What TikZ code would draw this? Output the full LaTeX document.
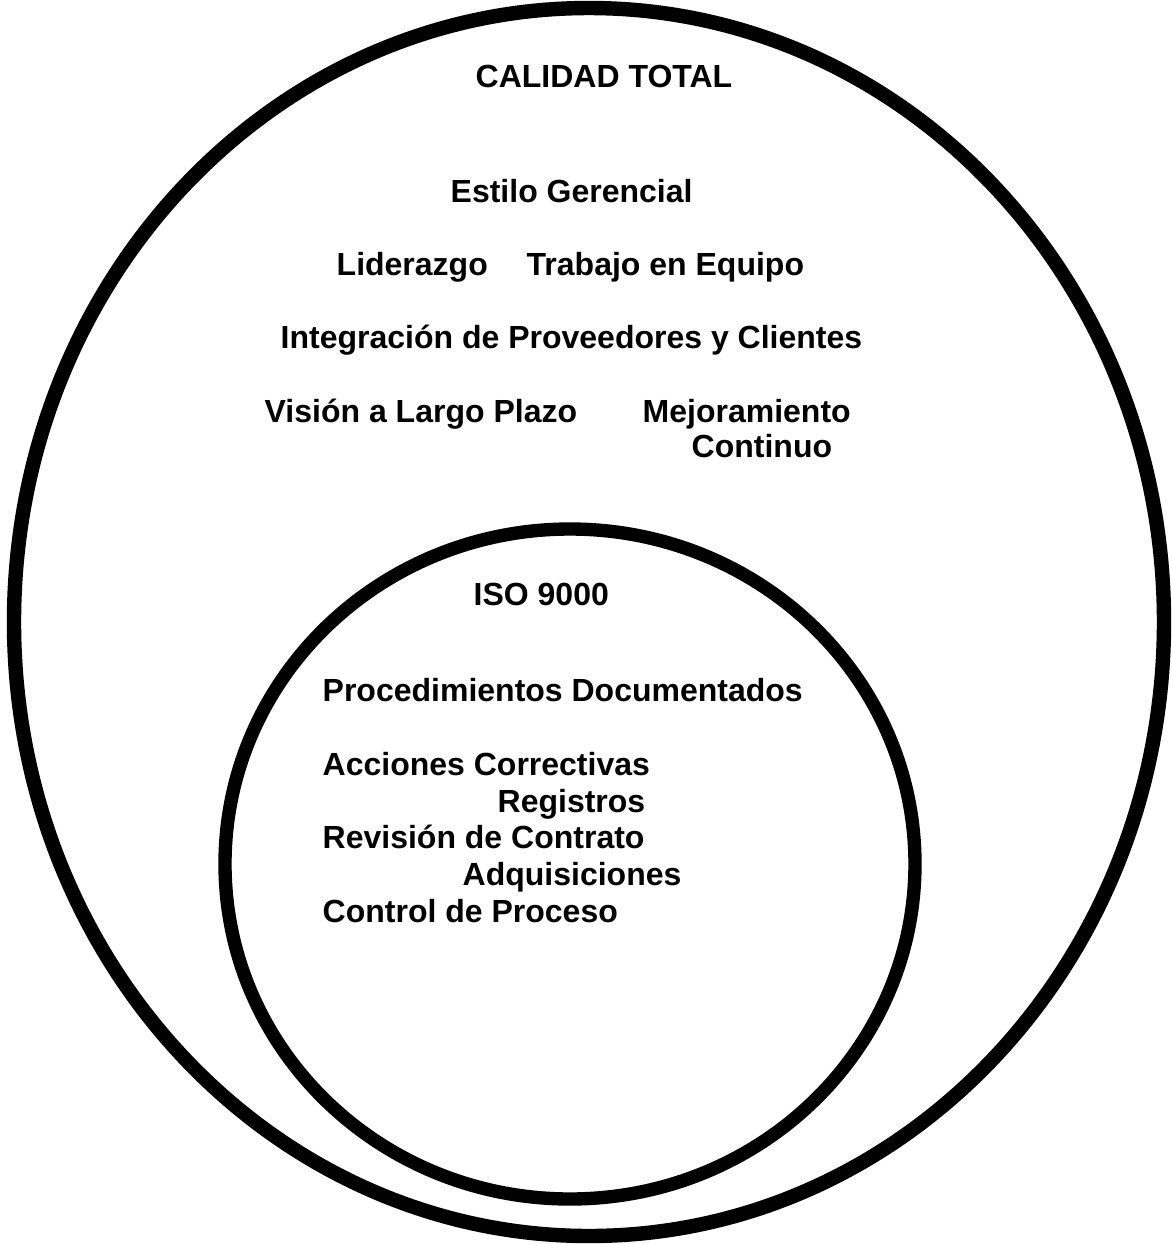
\documentclass[tikz,border=0pt]{standalone}
\usepackage{fontspec}
\setmainfont{Liberation Sans}
\usepackage{tikz}
\tikzset{
  ring/.style={draw=black,line width=4.1pt},               % outer circle
  subring/.style={draw=black,line width=3.8pt},            % inner circle
  lbl/.style={anchor=base west,inner sep=0pt,font=\fontsize{9.1pt}{10.5pt}\selectfont\bfseries},
}

\begin{document}
\begin{tikzpicture}[x=0.01cm,y=-0.01cm]
  \useasboundingbox (0,0) rectangle (1172,1244);
  % circles
  \draw[ring] (589,622) ellipse [x radius=575,y radius=614];
  \draw[subring] (570,864) ellipse [x radius=345,y radius=335];
  % Calidad total
  \node[lbl] (ct) at (475,87) {CALIDAD TOTAL};
  \node[lbl] (eg) at (450,202) {Estilo Gerencial};
  \node[lbl] (lid) at (336,275) {Liderazgo};
  \node[lbl] (te) at (526,275) {Trabajo en Equipo};
  \node[lbl] (ipc) at (280,348) {Integración de Proveedores y Clientes};
  \node[lbl] (vlp) at (264,422) {Visión a Largo Plazo};
  \node[lbl] (mej) at (642,422) {Mejoramiento};
  \node[lbl] (con) at (691,457) {Continuo};
  % ISO 9000
  \node[lbl] (iso) at (473,605) {ISO 9000};
  \node[lbl] (pd) at (322,701) {Procedimientos Documentados};
  \node[lbl] (ac) at (322,775) {Acciones Correctivas};
  \node[lbl] (reg) at (497,812) {Registros};
  \node[lbl] (rc) at (322,848) {Revisión de Contrato};
  \node[lbl] (adq) at (462,885) {Adquisiciones};
  \node[lbl] (cp) at (322,922) {Control de Proceso};
\end{tikzpicture}
\end{document}
